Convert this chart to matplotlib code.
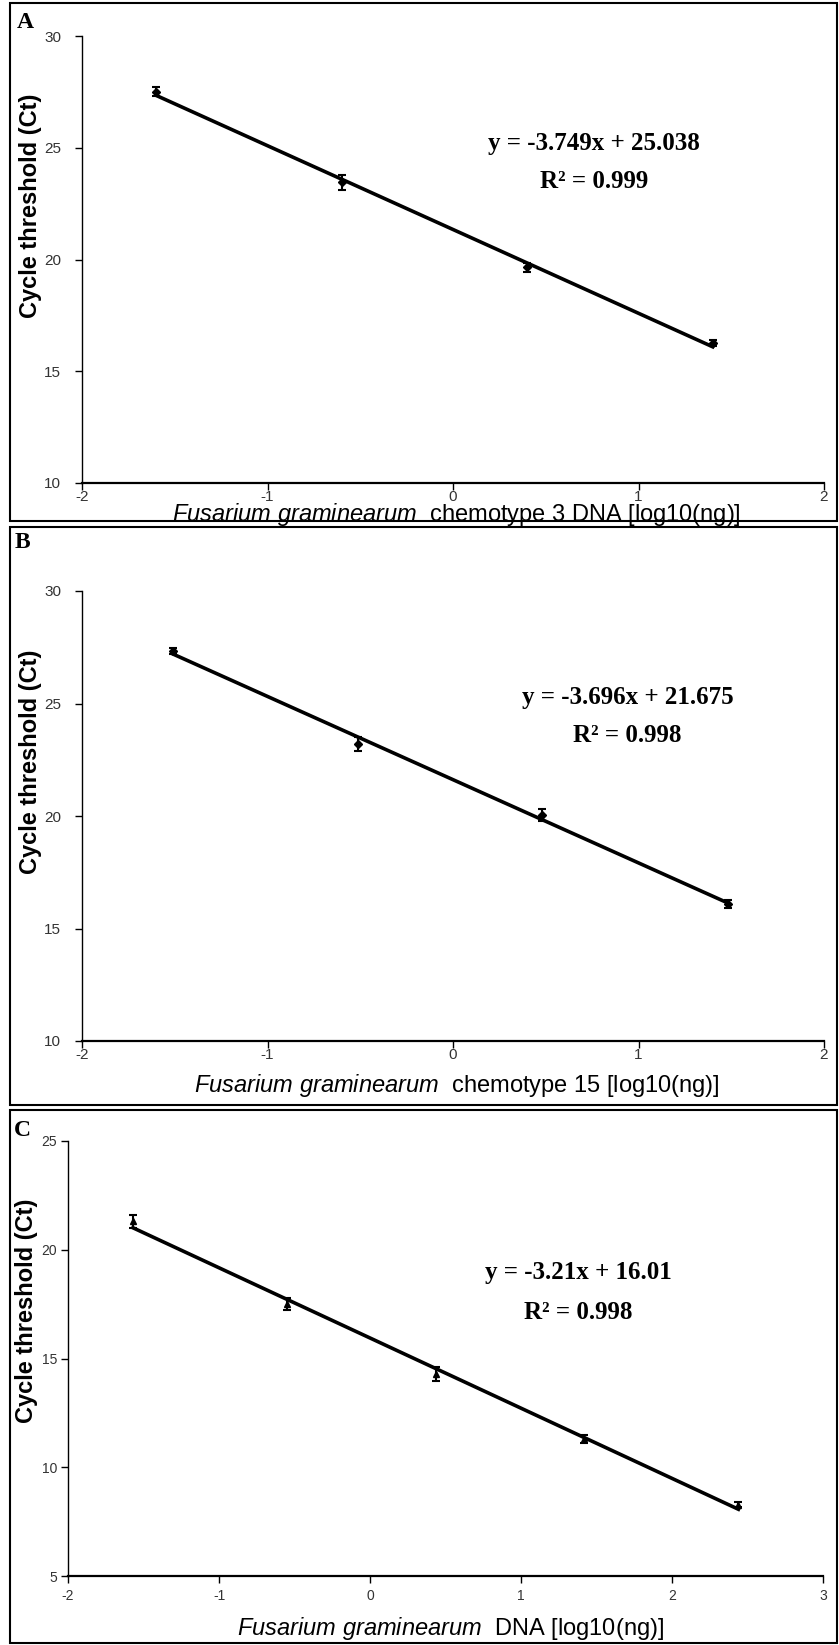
import matplotlib
matplotlib.use("Agg")
import matplotlib.pyplot as plt
import numpy as np
from matplotlib.patches import Rectangle

# standard curves: log10 DNA amount vs cycle threshold, mean +/- error
log_dna_a = [-1.60, -0.60, 0.40, 1.40]
ct_a = [27.50, 23.45, 19.65, 16.27]
err_a = [0.20, 0.33, 0.20, 0.12]

log_dna_b = [-1.51, -0.51, 0.48, 1.48]
ct_b = [27.33, 23.20, 20.05, 16.10]
err_b = [0.12, 0.30, 0.25, 0.18]

log_dna_c = [-1.57, -0.55, 0.44, 1.42, 2.44]
ct_c = [21.30, 17.50, 14.30, 11.30, 8.28]
err_c = [0.30, 0.28, 0.33, 0.20, 0.12]

equations = ["y = -3.749x + 25.038", "y = -3.696x + 21.675", "y = -3.21x + 16.01"]
r_squared = ["R\u00b2 = 0.999", "R\u00b2 = 0.998", "R\u00b2 = 0.998"]
xlabels = [r"$\mathit{Fusarium\ graminearum}$  chemotype 3 DNA [log10(ng)]",
           r"$\mathit{Fusarium\ graminearum}$  chemotype 15 [log10(ng)]",
           r"$\mathit{Fusarium\ graminearum}$  DNA [log10(ng)]"]

plt.rcParams.update({
    'font.family': ['Liberation Sans', 'DejaVu Sans'],
    'mathtext.fontset': 'custom',
    'mathtext.rm': 'Liberation Sans',
    'mathtext.it': 'Liberation Sans:italic',
    'axes.unicode_minus': False,
    'font.size': 10,
})

W, H = 839, 1645
fig = plt.figure(figsize=(W / 100, H / 100), dpi=100)


def rect(left, top, right, bottom):
    return [left / W, 1 - bottom / H, (right - left) / W, (bottom - top) / H]


# axes boxes in pixels: left, top, right, bottom
boxes = [(82, 36, 824, 483), (82, 591, 824, 1041), (68, 1141, 823, 1576)]
frames = [(10, 3, 837, 521), (10, 527, 837, 1105), (10, 1110, 837, 1643)]
letters = [("A", 25, 22), ("B", 22, 542), ("C", 22, 1130)]
series = [(log_dna_a, ct_a, err_a, 'D'), (log_dna_b, ct_b, err_b, 'D'), (log_dna_c, ct_c, err_c, '^')]
limits = [((-2, 2), (10, 30)), ((-2, 2), (10, 30)), ((-2, 3), (5, 25))]
eq_pos = [(0.76, 25.2, 23.5), (0.94, 25.26, 23.56), (1.38, 18.97, 17.1)]
ylab_pos = [(-0.054, 0.62), (-0.054, 0.62), (-0.040, 0.61)]
xlab_pos = [(0.505, -0.040), (0.505, -0.068), (0.507, -0.090)]
ytick_pad = [10, 10, 3]
tick_size = [11, 11, 10]

for i in range(3):
    ax = fig.add_axes(rect(*boxes[i]))
    x, y, e, mk = series[i]
    ax.errorbar(x, y, yerr=e, fmt=mk, color='black', ms=4, capsize=3,
                elinewidth=1.5, capthick=1.5, zorder=3)
    slope, icpt = np.polyfit(x, y, 1)
    xs = np.array([x[0], x[-1]])
    ax.plot(xs, slope * xs + icpt, color='black', lw=2.6, zorder=2)

    (x0, x1), (y0, y1) = limits[i]
    ax.set_xlim(x0, x1)
    ax.set_ylim(y0, y1)
    ax.set_xticks(np.arange(x0, x1 + 1, 1))
    ax.set_yticks(np.arange(y0, y1 + 1, 5))
    for s in ['top', 'right']:
        ax.spines[s].set_visible(False)
    ax.spines['left'].set_linewidth(1.0)
    ax.spines['bottom'].set_linewidth(1.6)
    ax.tick_params(axis='y', direction='out', length=5, width=1, pad=ytick_pad[i],
                   labelsize=tick_size[i], labelcolor='#333333')
    ax.tick_params(axis='x', direction='out', length=5, width=1, pad=0 if i < 2 else 4,
                   labelsize=tick_size[i], labelcolor='#333333')

    ax.set_ylabel("Cycle threshold (Ct)", fontsize=17, fontweight='bold')
    ax.yaxis.set_label_coords(*ylab_pos[i])
    ax.set_xlabel(xlabels[i], fontsize=17)
    ax.xaxis.set_label_coords(*xlab_pos[i])

    ex, ey1, ey2 = eq_pos[i]
    ax.text(ex, ey1, equations[i], ha='center', va='center', fontsize=18,
            family='Liberation Serif', fontweight='bold')
    ax.text(ex, ey2, r_squared[i], ha='center', va='center', fontsize=18,
            family='Liberation Serif', fontweight='bold')

    l, t, r, b = frames[i]
    fig.add_artist(Rectangle((l / W, 1 - b / H), (r - l) / W, (b - t) / H,
                             transform=fig.transFigure, fill=False, lw=1.5, color='black'))
    name, lx, ly = letters[i]
    fig.text(lx / W, 1 - ly / H, name, ha='center', va='center', fontsize=17,
             family='Liberation Serif', fontweight='bold')

fig.savefig("out.png", dpi=100)
